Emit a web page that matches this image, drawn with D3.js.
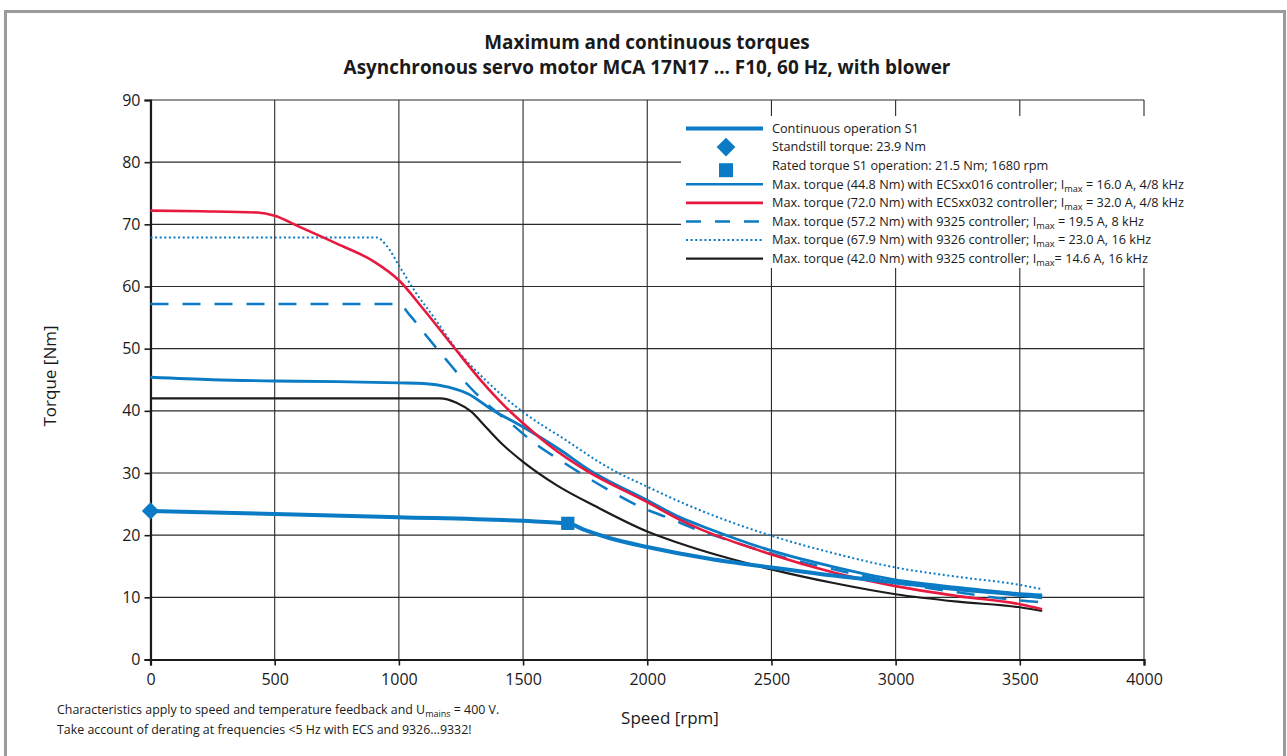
<!DOCTYPE html>
<html><head><meta charset="utf-8">
<script src="https://cdn.jsdelivr.net/npm/d3@7/dist/d3.min.js"></script>
<style>
body{margin:0;background:#fff}
svg{display:block}
text{font-family:"Open Sans",sans-serif;fill:#1a1a1a}
</style>
</head><body>
<svg id="chart" width="1287" height="756"></svg>
<script>
// ---------- data ----------
const titleLines = ["Maximum and continuous torques", "Asynchronous servo motor MCA 17N17 ... F10, 60 Hz, with blower"];
const speedTicks = [0, 500, 1000, 1500, 2000, 2500, 3000, 3500, 4000];
const torqueTicks = [0, 10, 20, 30, 40, 50, 60, 70, 80, 90];

const contSpeed  = [0, 500, 1000, 1500, 1680, 1750, 1850, 2000, 2250, 2500, 2750, 3000, 3250, 3500, 3590];
const contTorque = [23.9, 23.4, 22.9, 22.3, 21.9, 20.8, 19.5, 18.1, 16.2, 14.8, 13.5, 12.4, 11.3, 10.4, 10.0];

const standstill = [0, 23.9];
const rated = [1680, 21.9];

const ecs016Speed  = [0, 250, 500, 750, 1000, 1100, 1200, 1280, 1370, 1500, 1650, 1750, 2000, 2130, 2250, 2500, 2750, 3000, 3250, 3500, 3590];
const ecs016Torque = [45.4, 45.0, 44.8, 44.7, 44.5, 44.4, 43.8, 42.7, 40.3, 37.4, 33.7, 30.9, 25.6, 22.9, 21.0, 17.5, 14.9, 12.8, 11.6, 10.6, 10.4];

const ecs032Speed  = [0, 200, 430, 500, 600, 750, 900, 1000, 1100, 1220, 1330, 1430, 1500, 1630, 1750, 2000, 2130, 2500, 2750, 3000, 3250, 3500, 3590];
const ecs032Torque = [72.2, 72.1, 71.9, 71.4, 69.6, 66.9, 64.0, 61.0, 56.3, 50.3, 44.9, 40.6, 38.0, 33.7, 30.5, 25.3, 22.5, 16.9, 14.0, 11.8, 10.2, 8.9, 8.1];

const c9325Speed  = [0, 500, 1000, 1044, 1104, 1191, 1272, 1352, 1459, 1540, 1647, 1754, 1861, 1970, 2090, 2200, 2320, 2500, 2750, 3000, 3250, 3500, 3590];
const c9325Torque = [57.2, 57.2, 57.2, 55.4, 52.4, 48.2, 44.4, 41.2, 37.7, 35.0, 32.1, 29.4, 26.9, 24.6, 22.7, 20.9, 19.3, 17.0, 14.5, 12.4, 10.8, 9.5, 9.2];

const c9326Speed  = [0, 500, 910, 950, 1000, 1070, 1140, 1230, 1350, 1500, 1660, 1860, 2000, 2130, 2500, 2750, 3000, 3250, 3500, 3590];
const c9326Torque = [67.9, 67.9, 67.9, 66.6, 63.4, 58.9, 55.1, 50.0, 44.9, 39.8, 35.6, 30.5, 27.8, 25.4, 19.9, 17.1, 14.8, 13.3, 12.0, 11.3];

const c9325hSpeed  = [0, 500, 1000, 1165, 1232, 1290, 1350, 1420, 1500, 1633, 1794, 2000, 2130, 2500, 2750, 3000, 3250, 3500, 3590];
const c9325hTorque = [42.0, 42.0, 42.0, 42.0, 41.3, 39.9, 37.4, 34.5, 31.8, 28.1, 24.6, 20.6, 18.7, 14.5, 12.3, 10.5, 9.3, 8.4, 7.8];

const legendLabels = [
  ["Continuous operation S1"],
  ["Standstill torque: 23.9 Nm"],
  ["Rated torque S1 operation: 21.5 Nm; 1680 rpm"],
  ["Max. torque (44.8 Nm) with ECSxx016 controller; I", "max", " = 16.0 A, 4/8 kHz"],
  ["Max. torque (72.0 Nm) with ECSxx032 controller; I", "max", " = 32.0 A, 4/8 kHz"],
  ["Max. torque (57.2 Nm) with 9325 controller; I", "max", " = 19.5 A, 8 kHz"],
  ["Max. torque (67.9 Nm) with 9326 controller; I", "max", " = 23.0 A, 16 kHz"],
  ["Max. torque (42.0 Nm) with 9325 controller; I", "max", "= 14.6 A, 16 kHz"]
];
const xLabel = "Speed [rpm]";
const yLabel = "Torque [Nm]";
const noteLine1 = ["Characteristics apply to speed and temperature feedback and U", "mains", " = 400 V."];
const noteLine2 = "Take account of derating at frequencies <5 Hz with ECS and 9326\u20269332!";

// ---------- styles ----------
const BLUE = "#0a7bc4", RED = "#e8193f", BLACK = "#1c1c1c";

const svg = d3.select("#chart");
const x = d3.scaleLinear().domain([0, 4000]).range([150.5, 1144]);
const y = d3.scaleLinear().domain([0, 90]).range([659.5, 100]);

// frame
svg.append("rect").attr("x", 5.5).attr("y", 11.5).attr("width", 1279).attr("height", 770)
  .attr("fill", "none").attr("stroke", "#9b9b9b").attr("stroke-width", 3);

// title
svg.selectAll("text.title").data(titleLines).join("text").attr("class", "title")
  .attr("x", 647).attr("y", (d, i) => 49 + i * 25)
  .attr("text-anchor", "middle").attr("font-weight", "bold").attr("font-size", 18.9)
  .text(d => d);

// grid
const g = svg.append("g");
g.selectAll("line.vg").data(speedTicks).join("line").attr("class", "vg")
  .attr("x1", d => x(d)).attr("x2", d => x(d)).attr("y1", y(90)).attr("y2", y(0))
  .attr("stroke", "#2a2a2a").attr("stroke-width", 1.1);
g.selectAll("line.hg").data(torqueTicks).join("line").attr("class", "hg")
  .attr("x1", x(0)).attr("x2", x(4000)).attr("y1", d => y(d)).attr("y2", d => y(d))
  .attr("stroke", "#2a2a2a").attr("stroke-width", 1.1);

// axes
const xAxis = d3.axisBottom(x).tickValues(speedTicks).tickSize(6).tickPadding(8).tickFormat(d3.format("d"));
const yAxis = d3.axisLeft(y).tickValues(torqueTicks).tickSize(6).tickPadding(4).tickFormat(d3.format("d"));
const gx = svg.append("g").attr("transform", `translate(0,${y(0)})`).call(xAxis);
const gy = svg.append("g").attr("transform", `translate(${x(0)},0)`).call(yAxis);
[gx, gy].forEach(a => {
  a.select(".domain").attr("stroke", "#1a1a1a").attr("stroke-width", 2.2);
  a.selectAll(".tick line").attr("stroke", "#1a1a1a").attr("stroke-width", 1.6);
  a.selectAll(".tick text").attr("font-size", 16).attr("fill", "#1a1a1a").style("font-family", '"Open Sans",sans-serif');
});

// axis labels
svg.append("text").attr("x", 670).attr("y", 724).attr("text-anchor", "middle").attr("font-size", 17).text(xLabel);
svg.append("text").attr("transform", "translate(56,376) rotate(-90)").attr("text-anchor", "middle").attr("font-size", 17).text(yLabel);

// curves
const line = d3.line().x(d => x(d[0])).y(d => y(d[1])).curve(d3.curveMonotoneX);
const zip = (a, b) => a.map((v, i) => [v, b[i]]);
const series = [
  {s: c9325hSpeed, t: c9325hTorque, c: BLACK, w: 2.2, dash: null},
  {s: c9326Speed, t: c9326Torque, c: BLUE, w: 2, dash: "2,2.6"},
  {s: c9325Speed, t: c9325Torque, c: BLUE, w: 2.5, dash: "18,14"},
  {s: ecs016Speed, t: ecs016Torque, c: BLUE, w: 2.8, dash: null},
  {s: ecs032Speed, t: ecs032Torque, c: RED, w: 2.6, dash: null},
  {s: contSpeed, t: contTorque, c: BLUE, w: 4, dash: null}
];
svg.append("g").selectAll("path").data(series).join("path")
  .attr("d", d => line(zip(d.s, d.t)))
  .attr("fill", "none").attr("stroke", d => d.c).attr("stroke-width", d => d.w)
  .attr("stroke-dasharray", d => d.dash);

// markers
svg.append("path").attr("d", d3.symbol(d3.symbolSquare, 150)())
  .attr("transform", `translate(${x(standstill[0])},${y(standstill[1])}) rotate(45)`).attr("fill", BLUE);
svg.append("path").attr("d", d3.symbol(d3.symbolSquare, 175)())
  .attr("transform", `translate(${x(rated[0])},${y(rated[1])})`).attr("fill", BLUE);

// legend
const lg = svg.append("g");
lg.append("rect").attr("x", 681).attr("y", 116).attr("width", 514).attr("height", 152).attr("fill", "#fff");
const rowY = i => 128.5 + i * 18.6;
legendLabels.forEach((parts, i) => {
  const yy = rowY(i);
  if (i === 0) lg.append("line").attr("x1", 686).attr("x2", 763).attr("y1", yy).attr("y2", yy).attr("stroke", BLUE).attr("stroke-width", 4);
  if (i === 1) lg.append("path").attr("d", d3.symbol(d3.symbolSquare, 175)()).attr("transform", `translate(726,${yy}) rotate(45)`).attr("fill", BLUE);
  if (i === 2) lg.append("path").attr("d", d3.symbol(d3.symbolSquare, 196)()).attr("transform", `translate(726,${yy + 4.5})`).attr("fill", BLUE);
  const st = [null, null, null, series[3], series[4], series[2], series[1], series[0]][i];
  if (st) lg.append("line").attr("x1", 686).attr("x2", 763).attr("y1", yy).attr("y2", yy)
    .attr("stroke", st.c).attr("stroke-width", Math.min(st.w, 2.6)).attr("stroke-dasharray", st.dash ? (st.dash === "18,14" ? "15,14" : st.dash) : null);
  const t = lg.append("text").attr("x", 772).attr("y", yy + 4.3).attr("font-size", 12.7);
  t.append("tspan").text(parts[0]);
  if (parts.length > 1) {
    t.append("tspan").attr("dy", 3).attr("font-size", 9.2).text(parts[1]);
    t.append("tspan").attr("dy", -3).text(parts[2]);
  }
});

// footnote
const n1 = svg.append("text").attr("x", 57).attr("y", 714).attr("font-size", 12.4);
n1.append("tspan").text(noteLine1[0]);
n1.append("tspan").attr("dy", 3).attr("font-size", 9).text(noteLine1[1]);
n1.append("tspan").attr("dy", -3).text(noteLine1[2]);
svg.append("text").attr("x", 57).attr("y", 734).attr("font-size", 12.4).text(noteLine2);
</script>
</body></html>
